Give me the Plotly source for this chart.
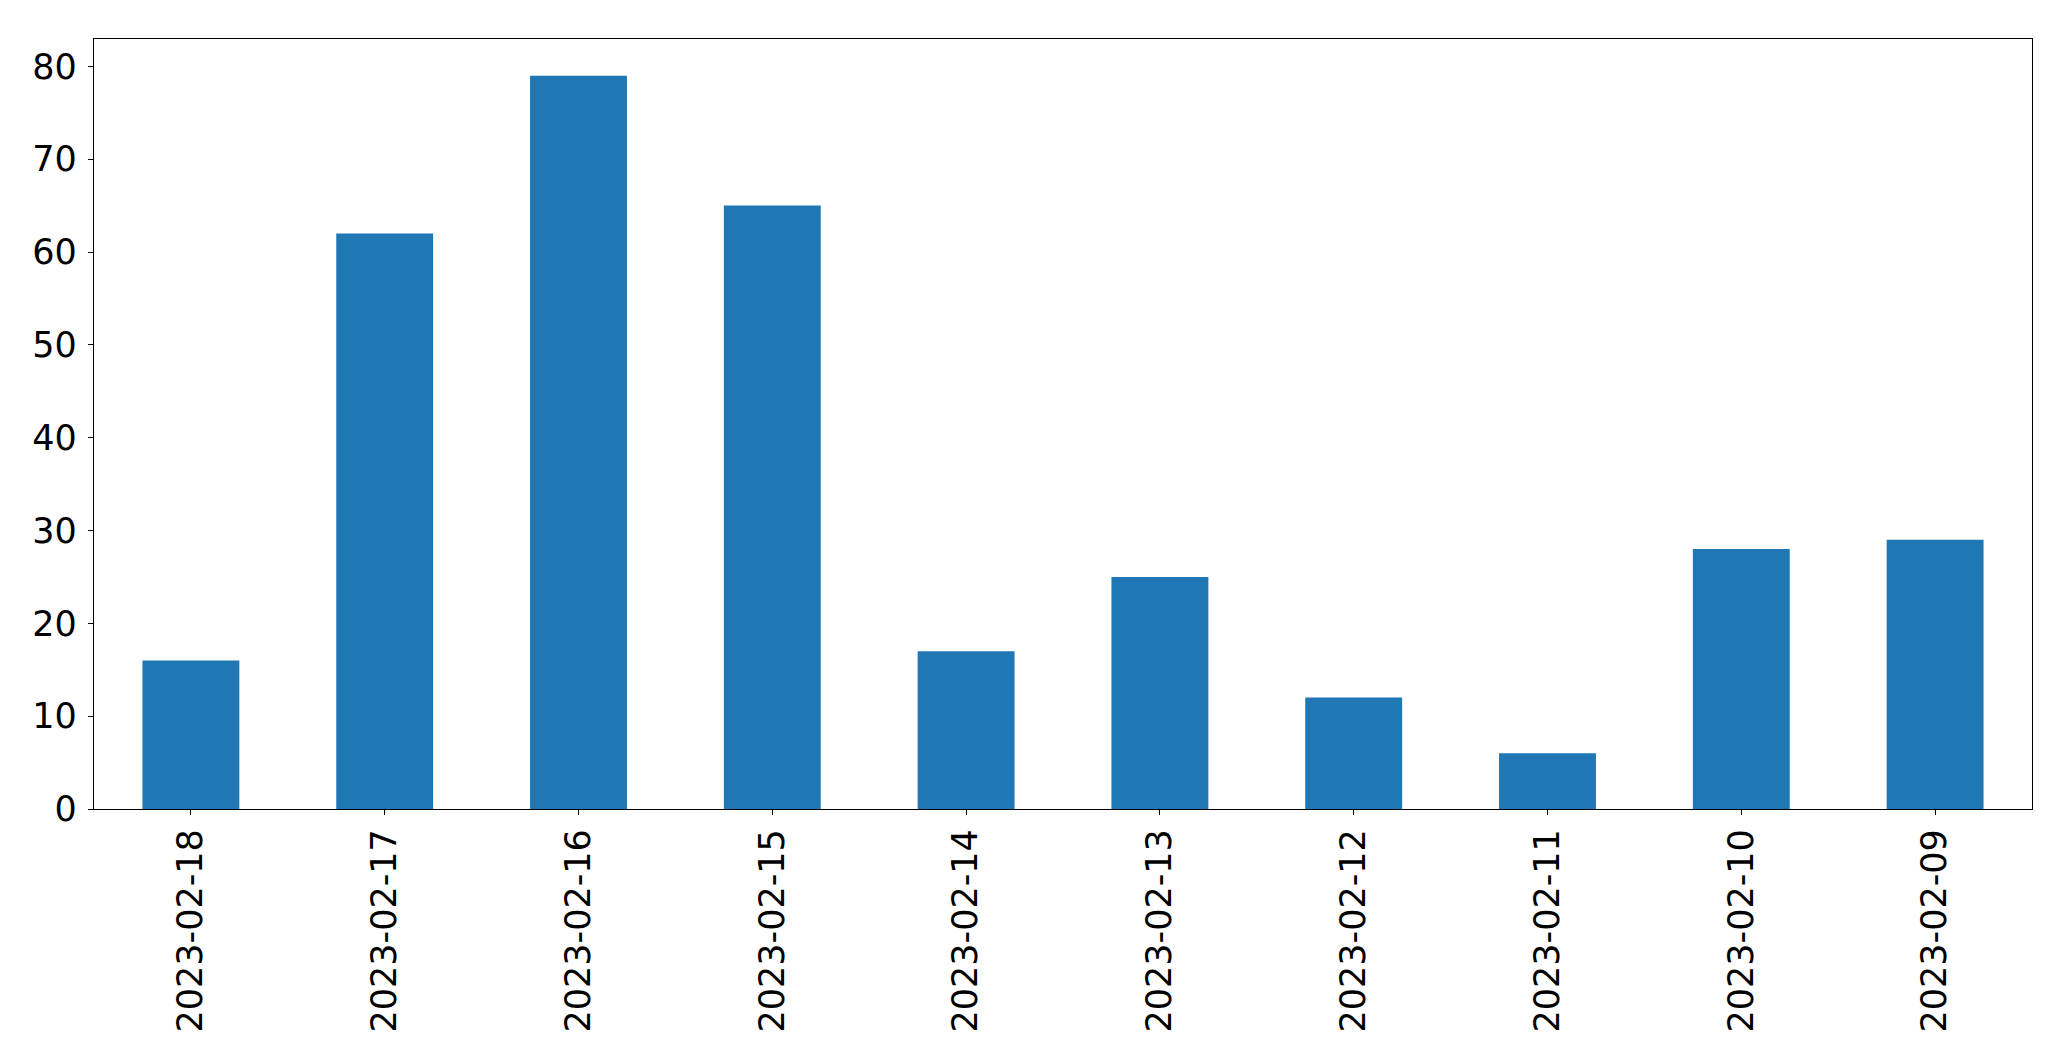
import plotly.graph_objects as go

dates = ["2023-02-18", "2023-02-17", "2023-02-16", "2023-02-15", "2023-02-14",
         "2023-02-13", "2023-02-12", "2023-02-11", "2023-02-10", "2023-02-09"]
counts = [16, 62, 79, 65, 17, 25, 12, 6, 28, 29]
y_ticks = [0, 10, 20, 30, 40, 50, 60, 70, 80]

fig = go.Figure(go.Bar(x=dates, y=counts, marker=dict(color="#1f77b4", line=dict(width=0))))

font = dict(family="DejaVu Sans", size=35, color="black")
# page body has an 8px default margin; figure size/margins compensate for it
fig.update_layout(
    width=2055, height=1045,
    margin=dict(l=86, r=31, t=31, b=244, pad=0),
    paper_bgcolor="white", plot_bgcolor="white",
    bargap=0.5, showlegend=False,
    font=font,
)
fig.update_xaxes(
    type="category", range=[-0.5, 9.5], tickangle=-90,
    showline=True, linecolor="black", linewidth=1.3, mirror=True,
    ticks="outside", ticklen=5, tickcolor="black", tickwidth=1.3,
    showgrid=False, zeroline=False, tickfont=font, automargin=False,
)
fig.update_yaxes(
    range=[0, 82.95], tickvals=y_ticks, ticktext=[str(v) for v in y_ticks],
    showline=True, linecolor="black", linewidth=1.3, mirror=True,
    ticks="outside", ticklen=5, tickcolor="black", tickwidth=1.3,
    showgrid=False, zeroline=False, tickfont=font, ticklabelstandoff=4,
    automargin=False,
)
fig.write_html("out.html")
